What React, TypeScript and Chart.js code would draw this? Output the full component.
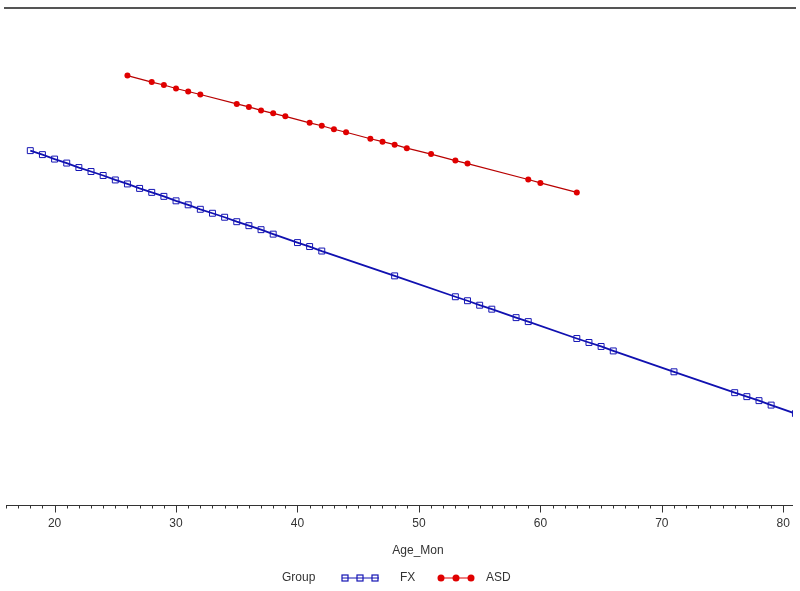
import React, { useEffect, useRef } from "react";
import { Chart, registerables } from "chart.js";
Chart.register(...registerables);

// FX group (Age in months, predicted value)
const fxAge = [18, 19, 20, 21, 22, 23, 24, 25, 26, 27, 28, 29, 30, 31, 32, 33, 34, 35, 36, 37, 38, 40, 41, 42, 48, 53, 54, 55, 56, 58, 59, 63, 64, 65, 66, 71, 76, 77, 78, 79, 81];
const fxValue = [71.3, 70.5, 69.6, 68.8, 67.9, 67.1, 66.3, 65.4, 64.6, 63.7, 62.9, 62.1, 61.2, 60.4, 59.5, 58.7, 57.9, 57.0, 56.2, 55.4, 54.5, 52.8, 52.0, 51.1, 46.1, 41.9, 41.1, 40.2, 39.4, 37.7, 36.9, 33.5, 32.7, 31.9, 31.0, 26.8, 22.6, 21.8, 21.0, 20.1, 18.4];

// ASD group
const asdAge = [26, 28, 29, 30, 31, 32, 35, 36, 37, 38, 39, 41, 42, 43, 44, 46, 47, 48, 49, 51, 53, 54, 59, 60, 63];
const asdValue = [86.4, 85.1, 84.5, 83.8, 83.2, 82.6, 80.7, 80.1, 79.4, 78.8, 78.2, 76.9, 76.3, 75.6, 75.0, 73.7, 73.1, 72.5, 71.8, 70.6, 69.3, 68.7, 65.5, 64.8, 62.9];

const majorTicks = [20, 30, 40, 50, 60, 70, 80];
const xTitle = "Age_Mon";
const legendTitle = "Group";
const seriesNames = ["FX", "ASD"];
const seriesColors = ["#1414b4", "#e00000"];
const lineColors = ["#1010b0", "#b80000"];

const FONT = "12px 'Liberation Sans', Arial, sans-serif";
const TEXT = "#333333";

const customPlugin = {
  id: "customAxis",
  afterDraw(chart: any) {
    const ctx = chart.ctx;
    const x = chart.scales.x;
    const area = chart.chartArea;
    ctx.save();
    // top frame line
    ctx.strokeStyle = "#555555";
    ctx.lineWidth = 2;
    ctx.beginPath();
    ctx.moveTo(4, 8);
    ctx.lineTo(796, 8);
    ctx.stroke();

    // x axis line
    const y0 = Math.round(area.bottom) + 0.5;
    ctx.strokeStyle = "#333333";
    ctx.lineWidth = 1;
    ctx.beginPath();
    ctx.moveTo(area.left, y0);
    ctx.lineTo(area.right, y0);
    ctx.stroke();

    // ticks
    ctx.beginPath();
    for (let v = Math.ceil(x.min); v <= Math.floor(x.max); v++) {
      const px = Math.round(x.getPixelForValue(v)) + 0.5;
      const len = majorTicks.includes(v) ? 7 : 3;
      ctx.moveTo(px, y0);
      ctx.lineTo(px, y0 + len);
    }
    ctx.stroke();

    // tick labels
    ctx.fillStyle = TEXT;
    ctx.font = FONT;
    ctx.textAlign = "center";
    ctx.textBaseline = "middle";
    for (const v of majorTicks) {
      ctx.fillText(String(v), x.getPixelForValue(v), 524);
    }
    // axis title
    ctx.fillText(xTitle, 418, 551);

    // legend
    ctx.textAlign = "left";
    ctx.fillText(legendTitle, 282, 578);
    // FX
    const ly = 578;
    ctx.strokeStyle = seriesColors[0];
    ctx.lineWidth = 1.2;
    ctx.beginPath();
    ctx.moveTo(342, ly);
    ctx.lineTo(379, ly);
    ctx.stroke();
    for (const cx of [345, 360, 375]) {
      ctx.strokeRect(cx - 3, ly - 3, 6, 6);
    }
    ctx.fillStyle = TEXT;
    ctx.fillText(seriesNames[0], 400, ly);
    // ASD
    ctx.strokeStyle = seriesColors[1];
    ctx.fillStyle = seriesColors[1];
    ctx.beginPath();
    ctx.moveTo(438, ly);
    ctx.lineTo(474, ly);
    ctx.stroke();
    for (const cx of [441, 456, 471]) {
      ctx.beginPath();
      ctx.arc(cx, ly, 3.5, 0, Math.PI * 2);
      ctx.fill();
    }
    ctx.fillStyle = TEXT;
    ctx.fillText(seriesNames[1], 486, ly);
    ctx.restore();
  },
};

export default function App() {
  const ref = useRef<HTMLCanvasElement | null>(null);
  useEffect(() => {
    document.body.style.margin = "0";
    const canvas = ref.current!;
    const chart = new Chart(canvas, {
      type: "line",
      data: {
        datasets: [
          {
            label: seriesNames[0],
            data: fxAge.map((a, i) => ({ x: a, y: fxValue[i] })),
            borderColor: lineColors[0],
            backgroundColor: "rgba(0,0,0,0)",
            borderWidth: 1.8,
            pointStyle: "rect",
            pointRadius: 4.2,
            pointBorderWidth: 1,
            pointBorderColor: seriesColors[0],
            pointBackgroundColor: "rgba(0,0,0,0)",
          },
          {
            label: seriesNames[1],
            data: asdAge.map((a, i) => ({ x: a, y: asdValue[i] })),
            borderColor: lineColors[1],
            backgroundColor: seriesColors[1],
            borderWidth: 1.2,
            pointStyle: "circle",
            pointRadius: 3,
            pointBorderWidth: 0,
            pointBackgroundColor: seriesColors[1],
          },
        ],
      },
      options: {
        animation: false,
        responsive: false,
        maintainAspectRatio: false,
        layout: { padding: { left: 6, right: 7, top: 8, bottom: 86 } },
        plugins: { legend: { display: false }, tooltip: { enabled: false } },
        scales: {
          x: { type: "linear", min: 16, max: 80.8, display: false },
          y: { type: "linear", min: 0, max: 100, display: false },
        },
      },
      plugins: [customPlugin],
    });
    return () => chart.destroy();
  }, []);
  return <canvas ref={ref} width={800} height={591} style={{ display: "block" }} />;
}
